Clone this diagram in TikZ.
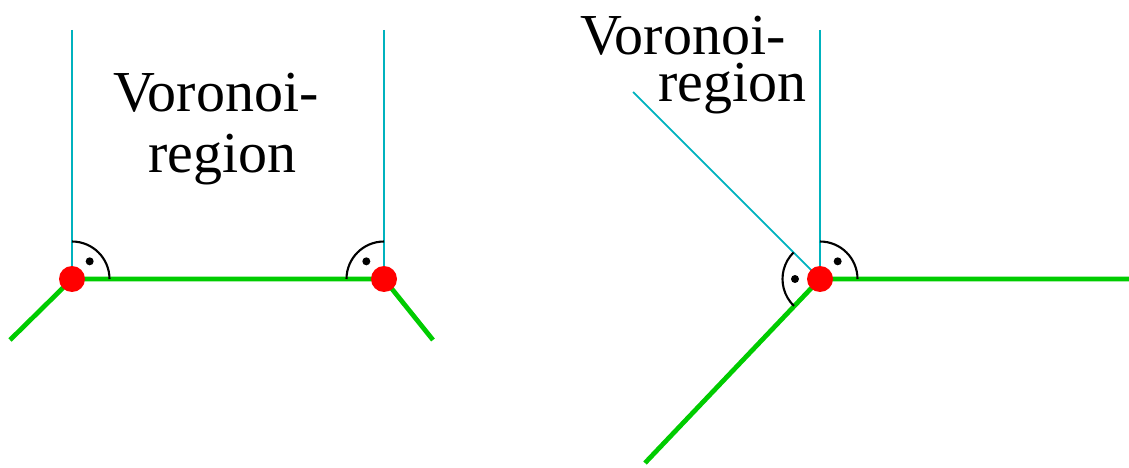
\documentclass[tikz,border=0pt]{standalone}
\usepackage{fontspec}
\setmainfont{Liberation Serif}
\usepackage{tikz}
\usetikzlibrary{calc}

\definecolor{bisecc}{RGB}{0,178,190}
\definecolor{edgec}{RGB}{0,204,0}

\begin{document}
\begin{tikzpicture}[
  x=0.02cm, y=0.02cm,
  site/.style={circle, fill=red, inner sep=0pt, minimum size=0.52cm},
  edge/.style={draw=edgec, line width=2.7pt},
  bisec/.style={draw=bisecc, line width=1pt},
  angmark/.style={draw=black, line width=1.2pt},
  lbl/.style={anchor=base west, inner sep=0pt, font=\fontsize{33}{33}\selectfont}
]
\useasboundingbox (0,0) rectangle (1129,467);

% vertices
\coordinate (p1) at (72,188);
\coordinate (p2) at (384,188);
\coordinate (p3) at (820,188);

% free ends
\coordinate (e1) at (10,127);
\coordinate (e2) at (433,127);
\coordinate (e3) at (1129,188);
\coordinate (e4) at (645,4);
\coordinate (t1) at (72,437);
\coordinate (t2) at (384,437);
\coordinate (t3) at (820,437);
\coordinate (t4) at (633,375);

% edges
\draw[edge] (e1) -- (p1) -- (p2) -- (e2);
\draw[edge] (e4) -- (p3) -- (e3);

% perpendiculars
\draw[bisec] (t1) -- (p1);
\draw[bisec] (t2) -- (p2);
\draw[bisec] (t3) -- (p3);
\draw[bisec] (t4) -- (p3);

% right angle marks
\draw[angmark] ($(p1)+(0:0.75cm)$) arc[start angle=0, end angle=90, radius=0.75cm];
\fill ($(p1)+(45:0.5cm)$) circle (0.08cm);
\draw[angmark] ($(p2)+(90:0.75cm)$) arc[start angle=90, end angle=180, radius=0.75cm];
\fill ($(p2)+(135:0.5cm)$) circle (0.08cm);
\draw[angmark] ($(p3)+(0:0.75cm)$) arc[start angle=0, end angle=90, radius=0.75cm];
\fill ($(p3)+(45:0.5cm)$) circle (0.08cm);
\draw[angmark] ($(p3)+(135:0.75cm)$) arc[start angle=135, end angle=226, radius=0.75cm];
\fill ($(p3)+(180:0.5cm)$) circle (0.08cm);

% sites
\node[site] (s1) at (p1) {};
\node[site] (s2) at (p2) {};
\node[site] (s3) at (p3) {};

% labels
\node[lbl] (vl1) at (113,355) {Voronoi-};
\node[lbl] (vl2) at (148,294) {region};
\node[lbl] (vr1) at (580,412) {Voronoi-};
\node[lbl] (vr2) at (658,365) {region};

\end{tikzpicture}
\end{document}
